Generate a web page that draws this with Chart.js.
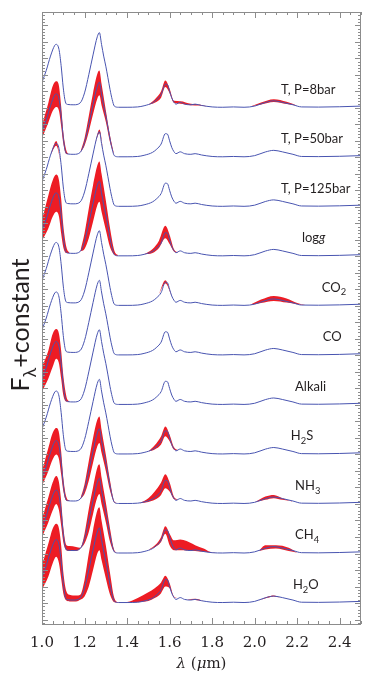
<!DOCTYPE html>
<html>
<head>
<meta charset="utf-8">
<script src="https://cdn.jsdelivr.net/npm/chart.js@4.4.0/dist/chart.umd.min.js"></script>
<style>
  html, body { margin: 0; padding: 0; background: #fff; }
  #wrap { width: 374px; height: 678px; }
</style>
</head>
<body>
<div id="wrap"><canvas id="spectraChart"></canvas></div>
<script>
// wavelength grid (micron) shared by every model spectrum
const wavelength = [1.00,1.02,1.04,1.06,1.067,1.08,1.09,1.10,1.11,1.12,1.15,1.18,1.20,1.22,1.24,1.26,1.27,1.28,1.29,1.30,
  1.31,1.32,1.33,1.34,1.36,1.40,1.45,1.48,1.52,1.54,1.56,1.58,1.59,1.60,1.61,1.62,1.63,1.65,1.67,1.70,
  1.72,1.75,1.80,1.85,1.90,1.95,2.00,2.05,2.09,2.13,2.18,2.22,2.30,2.40,2.50];
// median model flux, above each spectrum's own baseline
const medianFlux = [1.55,2.26,3.13,3.78,3.84,3.53,2.55,1.2,0.35,0.2,0.18,0.3,0.9,2.0,3.2,4.3,4.55,3.84,3.13,2.52,
  1.82,1.1,0.5,0.1,0.03,0.03,0.05,0.12,0.3,0.5,0.8,1.43,1.4,1.0,0.6,0.35,0.22,0.33,0.22,0.18,
  0.22,0.14,0.05,0.03,0.05,0.03,0.1,0.32,0.42,0.33,0.18,0.05,0.04,0.06,0.1];

// spread of the varied spectra, in separate bands: [wavelength, low, high]
const envTP8 = [
  [[1.50,0.18,0.18],[1.53,0.3,0.5],[1.56,0.6,1.0],[1.58,1.25,1.65],[1.60,0.88,1.15],[1.62,0.3,0.42],
   [1.65,0.25,0.4],[1.70,0.15,0.24],[1.74,0.13,0.2],[1.78,0.08,0.08]],
  [[1.98,0.08,0.08],[2.03,0.2,0.32],[2.09,0.35,0.52],[2.15,0.22,0.36],[2.20,0.12,0.12]]];
const envTP50 = [
  [[1.00,1.15,1.95],[1.03,2.1,3.3],[1.05,2.8,4.3],[1.067,3.05,4.6],[1.08,2.8,4.3],[1.09,1.9,3.1],
   [1.10,0.85,1.55],[1.115,0.2,0.4],[1.125,0.2,0.2]],
  [[1.18,0.3,0.3],[1.20,0.7,1.15],[1.22,1.55,2.5],[1.24,2.6,3.9],[1.26,3.55,5.05],[1.27,3.75,5.25],
   [1.28,3.15,4.45],[1.30,2.15,2.85],[1.32,0.9,1.3],[1.34,0.1,0.1]]];
const envTP125 = [
  [[1.04,3.13,3.13],[1.067,3.7,3.98],[1.09,2.55,2.55]],
  [[1.25,3.8,3.8],[1.27,4.45,4.68],[1.29,3.13,3.13]]];
const envLogg = [
  [[1.00,0.95,2.2],[1.03,1.7,3.7],[1.05,2.4,4.6],[1.067,2.7,4.95],[1.08,2.4,4.6],[1.09,1.4,3.5],
   [1.10,0.55,1.9],[1.115,0.2,0.55],[1.13,0.2,0.2]],
  [[1.18,0.3,0.3],[1.20,0.45,1.4],[1.22,1.1,2.9],[1.24,2.1,4.3],[1.26,3.1,5.5],[1.27,3.3,5.75],
   [1.28,2.7,5.0],[1.30,1.6,3.4],[1.32,0.55,1.7],[1.34,0.1,0.35],[1.36,0.03,0.03]],
  [[1.48,0.12,0.12],[1.52,0.2,0.45],[1.55,0.5,0.95],[1.58,1.1,1.85],[1.60,0.75,1.3],[1.62,0.3,0.45],[1.64,0.22,0.22]]];
const envCO2 = [
  [[1.55,0.7,0.7],[1.58,1.35,1.55],[1.61,0.6,0.6]],
  [[1.98,0.07,0.07],[2.03,0.18,0.38],[2.09,0.3,0.6],[2.15,0.2,0.45],[2.20,0.1,0.18],[2.24,0.05,0.05]]];
const envCO = [];
const envAlkali = [
  [[1.00,0.8,2.3],[1.03,1.6,3.3],[1.05,2.3,4.3],[1.067,2.8,4.6],[1.08,2.5,4.3],[1.09,1.6,3.3],
   [1.10,0.6,1.8],[1.115,0.2,0.5],[1.13,0.18,0.18]]];
const envH2S = [
  [[1.50,0.18,0.18],[1.53,0.3,0.55],[1.56,0.6,1.1],[1.58,1.1,1.7],[1.60,0.8,1.2],[1.62,0.3,0.45],[1.64,0.25,0.25]]];
const envNH3 = [
  [[1.00,1.1,2.0],[1.03,2.0,3.4],[1.05,2.7,4.3],[1.067,3.0,4.6],[1.08,2.7,4.3],[1.09,1.8,3.2],
   [1.10,0.8,1.6],[1.115,0.2,0.4],[1.13,0.18,0.18]],
  [[1.18,0.3,0.3],[1.20,0.6,1.2],[1.22,1.4,2.6],[1.24,2.5,4.0],[1.26,3.5,5.1],[1.27,3.7,5.3],
   [1.28,3.1,4.5],[1.30,2.0,3.0],[1.32,0.8,1.4],[1.34,0.1,0.15],[1.36,0.03,0.03]],
  [[1.46,0.05,0.05],[1.50,0.12,0.35],[1.53,0.25,0.75],[1.56,0.55,1.3],[1.58,0.95,1.8],[1.60,0.75,1.3],
   [1.62,0.3,0.45],[1.64,0.25,0.25]],
  [[2.00,0.1,0.1],[2.05,0.25,0.45],[2.09,0.35,0.55],[2.13,0.25,0.35],[2.18,0.15,0.15]]];
const envCH4 = [
  [[1.00,1.0,2.1],[1.03,1.9,3.4],[1.05,2.6,4.3],[1.067,3.0,4.7],[1.08,2.6,4.3],[1.09,1.7,3.2],
   [1.10,0.7,1.6],[1.115,0.2,0.5],[1.13,0.15,0.45],[1.16,0.15,0.4],[1.18,0.3,0.35],[1.20,0.6,1.2],[1.22,1.3,2.7],
   [1.24,2.4,4.0],[1.26,3.4,5.2],[1.27,3.6,5.4],[1.28,3.0,4.6],[1.30,1.9,3.1],[1.32,0.7,1.5],[1.34,0.1,0.2],
   [1.36,0.03,0.03]],
  [[1.50,0.2,0.2],[1.54,0.45,0.6],[1.56,0.7,1.0],[1.58,1.2,1.65],[1.60,0.5,1.2],[1.62,0.2,0.8],[1.65,0.2,0.85],
   [1.68,0.18,0.75],[1.72,0.15,0.5],[1.76,0.1,0.3],[1.79,0.06,0.1],[1.82,0.05,0.05]],
  [[2.02,0.15,0.15],[2.05,0.25,0.5],[2.10,0.3,0.5],[2.16,0.15,0.35],[2.20,0.05,0.05]]];
const envH2O = [
  [[1.00,0.8,2.3],[1.03,1.6,3.6],[1.05,2.4,4.5],[1.067,2.8,4.8],[1.08,2.4,4.5],[1.09,1.5,3.5],
   [1.10,0.6,1.9],[1.115,0.15,0.7],[1.13,0.1,0.5],[1.16,0.1,0.45],[1.18,0.2,0.5],[1.20,0.4,1.4],[1.22,1.0,3.0],
   [1.24,2.0,4.4],[1.26,3.0,5.6],[1.27,3.2,5.8],[1.28,2.6,5.0],[1.30,1.5,3.5],[1.32,0.5,1.8],[1.34,0.05,0.3],
   [1.36,0.03,0.05],[1.40,0.03,0.06],[1.45,0.05,0.3],[1.50,0.12,0.65],[1.53,0.3,0.9],[1.56,0.6,1.25],
   [1.58,1.0,1.65],[1.60,0.9,1.2],[1.62,0.35,0.4],[1.64,0.3,0.3]],
  [[1.68,0.2,0.2],[1.72,0.18,0.26],[1.76,0.12,0.12]],
  [[2.02,0.15,0.15],[2.06,0.32,0.38],[2.09,0.4,0.46],[2.12,0.33,0.33]]];

// top to bottom
const seriesLabels = [
  [['T, P=8bar']], [['T, P=50bar']], [['T, P=125bar']], [['log'], ['g', 'i']], [['CO'], ['2', 'sub']],
  [['CO']], [['Alkali']], [['H'], ['2', 'sub'], ['S']], [['NH'], ['3', 'sub']], [['CH'], ['4', 'sub']],
  [['H'], ['2', 'sub'], ['O']]
];
const envelopes = [envTP8, envTP50, envTP125, envLogg, envCO2, envCO, envAlkali, envH2S, envNH3, envCH4, envH2O];
const xTicks = [1.0, 1.2, 1.4, 1.6, 1.8, 2.0, 2.2, 2.4];
const offsetStep = 3;

const labelLeft = [2.124, 2.124, 2.124, 2.222, 2.316, 2.32, 2.19, 2.17, 2.19, 2.19, 2.18];
const RED = 'rgb(237, 28, 36)';
const BLUE = 'rgb(72, 84, 176)';
const INK = '#231f20';

function drawRuns(ctx, runs, x, y, size, family) {
  let cx = x;
  runs.forEach(([t, s]) => {
    const sub = s === 'sub';
    const fs = sub ? size * 0.72 : size;
    ctx.font = (s === 'i' ? 'italic ' : '') + fs + 'px ' + family;
    ctx.fillText(t, cx, sub ? y + size * 0.28 : y);
    cx += ctx.measureText(t).width;
  });
  return cx - x;
}
function runsWidth(ctx, runs, size, family) {
  let w = 0;
  runs.forEach(([t, s]) => {
    const fs = s === 'sub' ? size * 0.72 : size;
    ctx.font = (s === 'i' ? 'italic ' : '') + fs + 'px ' + family;
    w += ctx.measureText(t).width;
  });
  return w;
}

const datasets = [];
envelopes.forEach((env, i) => {
  const off = (envelopes.length - 1 - i) * offsetStep;
  env.forEach(band => {
    datasets.push({
      data: band.map(e => ({ x: e[0], y: off + e[2] })),
      borderWidth: 0, pointRadius: 0, fill: false, order: 2,
      cubicInterpolationMode: 'monotone'
    });
    datasets.push({
      data: band.map(e => ({ x: e[0], y: off + e[1] })),
      borderWidth: 0, pointRadius: 0, fill: '-1', backgroundColor: RED, order: 2,
      cubicInterpolationMode: 'monotone'
    });
  });
  datasets.push({
    data: wavelength.map((w, j) => ({ x: w, y: off + medianFlux[j] })),
    borderColor: BLUE, borderWidth: 1, pointRadius: 0, fill: false, order: 1,
    cubicInterpolationMode: 'monotone'
  });
});

const decorations = {
  id: 'decorations',
  afterDraw(chart) {
    const { ctx, chartArea: a, scales: { x, y } } = chart;
    ctx.save();
    ctx.strokeStyle = '#8c8c8c';
    ctx.lineWidth = 1;
    ctx.strokeRect(a.left + 0.5, a.top + 0.5, a.right - a.left - 1, a.bottom - a.top);
    ctx.beginPath();
    for (let k = 0; k <= 30; k++) {
      const px = Math.round(x.getPixelForValue(1 + k * 0.05)) + 0.5;
      const len = k % 4 === 0 ? 6 : 3;
      ctx.moveTo(px, a.top); ctx.lineTo(px, a.top + len);
      ctx.moveTo(px, a.bottom); ctx.lineTo(px, a.bottom - len);
    }
    for (let k = Math.ceil(y.min * 5); k <= Math.floor(y.max * 5); k++) {
      const py = Math.round(y.getPixelForValue(k / 5)) + 0.5;
      const len = k % 5 === 0 ? 6 : 3;
      ctx.moveTo(a.left, py); ctx.lineTo(a.left + len, py);
      ctx.moveTo(a.right, py); ctx.lineTo(a.right - len, py);
    }
    ctx.stroke();

    ctx.fillStyle = INK;
    ctx.textBaseline = 'alphabetic';
    seriesLabels.forEach((runs, i) => {
      const off = (seriesLabels.length - 1 - i) * offsetStep;
      drawRuns(ctx, runs, x.getPixelForValue(labelLeft[i]), y.getPixelForValue(off + 0.85), 13, 'Lato');
    });

    // axis titles
    const yTitle = [['F'], ['\u03bb', 'sub'], ['+constant']];
    const w = runsWidth(ctx, yTitle, 25, 'Lato');
    ctx.translate(29, 325);
    ctx.rotate(-Math.PI / 2);
    drawRuns(ctx, yTitle, -w / 2, 0, 25, 'Lato');
    ctx.setTransform(1, 0, 0, 1, 0, 0);
    const xTitle = [['\u03bb', 'i'], [' ('], ['\u03bc', 'i'], ['m)']];
    const wx = runsWidth(ctx, xTitle, 15, 'DejaVu Serif');
    drawRuns(ctx, xTitle, (a.left + a.right) / 2 - wx / 2, 668, 15, 'DejaVu Serif');
    ctx.restore();
  }
};

document.addEventListener('DOMContentLoaded', function() {
  const ctx = document.getElementById('spectraChart').getContext('2d');
  new Chart(ctx, {
    type: 'line',
    data: { datasets: datasets },
    options: {
      responsive: true,
      maintainAspectRatio: false,
      animation: false,
      layout: { padding: { left: 42, right: 13, top: 12, bottom: 0 } },
      scales: {
        x: {
          type: 'linear', min: 1.0, max: 2.5,
          grid: { display: false, drawTicks: false },
          border: { display: false },
          ticks: {
            color: INK, padding: 10, maxRotation: 0, autoSkip: false,
            font: { family: 'DejaVu Serif', size: 15 },
            callback: v => v.toFixed(1)
          },
          afterBuildTicks: s => { s.ticks = xTicks.map(v => ({ value: v })); },
          afterFit: s => { s.height = 54; }
        },
        y: { type: 'linear', min: -1.27, max: 35.8, display: false }
      },
      plugins: { legend: { display: false }, tooltip: { enabled: false } }
    },
    plugins: [decorations]
  });
});
</script>
</body>
</html>
